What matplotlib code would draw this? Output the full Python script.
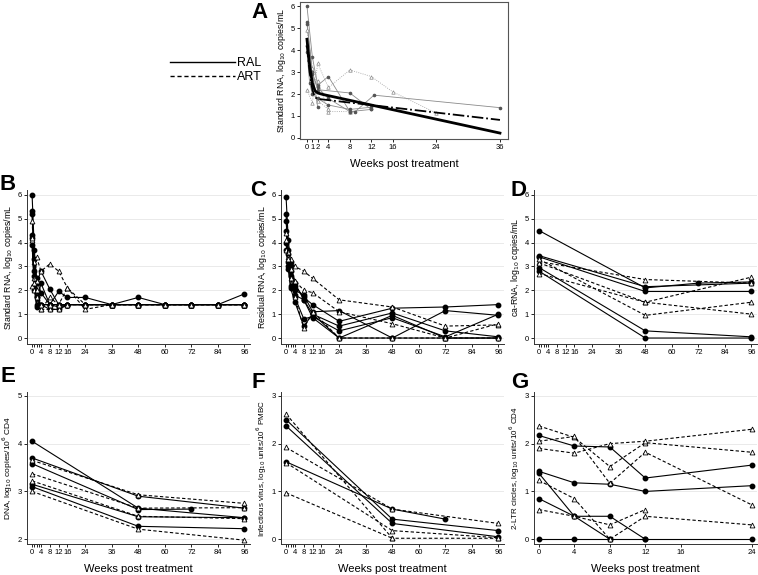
import matplotlib.pyplot as plt
from matplotlib.lines import Line2D

# ---- Panel A: standard RNA, first 36 weeks (thin grey individual lines + model fits)
a_fit_ral_x = [0, 0.5, 1, 1.5, 2, 3, 36]
a_fit_ral_y = [4.5, 3.3, 2.5, 2.15, 2.05, 1.98, 0.22]
a_fit_art_x = [0, 0.5, 1, 1.5, 2, 36]
a_fit_art_y = [4.2, 3.0, 2.2, 1.85, 1.78, 0.82]
a_ind = [
    ([0, 1, 2, 4, 8, 12], [6.0, 3.7, 2.4, 2.8, 1.2, 1.3], '*'),
    ([0, 1, 2, 8, 12], [5.3, 3.0, 2.2, 2.05, 1.3], '*'),
    ([0, 1, 2], [5.2, 3.0, 1.4], '*'),
    ([0, 1, 2, 4, 8, 12, 16, 24], [2.2, 1.6, 3.4, 2.3, 3.1, 2.8, 2.1, 1.15], '^'),
    ([0, 1, 2, 4, 8], [4.9, 3.2, 2.6, 1.2, 1.2], '^'),
    ([0, 1, 2, 4], [4.3, 2.6, 1.7, 1.3], '^'),
    ([0, 1, 2, 4, 8, 9, 12.5, 36], [4.2, 2.9, 2.3, 1.8, 1.2, 1.2, 1.95, 1.38], '*'),
    ([0, 0.5, 1, 2, 4, 8, 12], [3.9, 2.5, 2.0, 1.8, 1.5, 1.3, 1.4], '*'),
]

# ---- Panel B: standard RNA (96 weeks)
b_t = [0, 1, 2, 4, 8, 12, 16, 24, 36, 48, 60, 72, 84, 96]
b_ral = [
    [6.0, 3.7, 2.5, 1.9, 1.4, 1.95, 1.7, 1.7, 1.4, 1.7, 1.4, 1.4, 1.4, 1.85],
    [5.3, 3.3, 2.3, 2.8, 2.05, 1.4, 1.4, 1.4, 1.4, 1.4, 1.4, 1.4, 1.4, 1.4],
    [5.2, 2.8, 1.7, 1.4, 1.2, 1.2, 1.4, 1.4, 1.4, 1.4, 1.4, 1.4, 1.4, 1.4],
    [4.3, 2.6, 1.3, 1.4, 1.4, 1.4, 1.4, 1.4, 1.4, 1.4, 1.4, 1.4, 1.4, 1.4],
    [4.2, 2.2, 1.7, 1.4, 1.4, 1.3, 1.4, 1.4, 1.4, 1.4, 1.4, 1.4, 1.4, 1.4],
    [3.9, 2.0, 1.4, 2.3, 1.4, 1.4, 1.4, 1.4, 1.4, 1.4, 1.4, 1.4, 1.4, 1.4],
]
b_art = [
    [2.2, 2.0, 3.4, 2.8, 3.1, 2.8, 2.1, 1.2, 1.4, 1.4, 1.4, 1.4, 1.4, 1.4],
    [4.9, 3.2, 2.4, 1.2, 1.2, 1.2, 1.4, 1.4, 1.4, 1.4, 1.4, 1.4, 1.4, 1.4],
    [4.1, 2.5, 1.7, 1.2, 1.7, 1.4, 2.1, 1.4, 1.4, 1.4, 1.4, 1.4, 1.4, 1.4],
    [4.2, 2.3, 2.0, 1.4, 1.4, 1.4, 1.4, 1.4, 1.4, 1.4, 1.4, 1.4, 1.4, 1.4],
]

# ---- Panel C: residual RNA
c_t = [0, 1, 2, 4, 8, 12, 24, 48, 72, 96]
c_ral = [
    [5.9, 4.1, 3.2, 2.2, 1.7, 1.4, 0.7, 1.25, 1.3, 1.4],
    [5.2, 3.7, 2.8, 2.0, 1.8, 1.1, 1.15, 0.0, 1.15, 0.95],
    [4.9, 3.5, 3.0, 2.3, 1.6, 1.0, 0.5, 1.05, 0.3, 0.05],
    [4.5, 3.2, 2.6, 1.7, 0.8, 0.9, 0.3, 0.85, 0.05, 1.0],
    [4.0, 3.0, 2.1, 1.5, 0.5, 1.0, 0.0, 0.0, 0.0, 0.0],
    [3.7, 2.9, 2.2, 1.8, 1.6, 0.85, 0.0, 0.95, 0.0, 0.0],
]
c_art = [
    [3.7, 3.6, 3.3, 3.0, 2.8, 2.5, 1.6, 1.3, 0.5, 0.55],
    [4.4, 3.4, 2.9, 2.4, 2.0, 1.9, 1.1, 0.6, 0.0, 0.6],
    [4.1, 3.3, 2.5, 1.7, 0.4, 1.1, 0.0, 0.0, 0.0, 0.0],
]

# ---- Panel D: ca-RNA
d_t = [0, 48, 96]
d_ral = [
    ([0, 48, 72, 96], [4.5, 2.1, 2.3, 2.35]),
    ([0, 48, 96], [3.45, 2.15, 2.3]),
    ([0, 48, 96], [3.4, 1.95, 1.95]),
    ([0, 48, 96], [2.95, 0.3, 0.05]),
    ([0, 48, 96], [2.8, 0.0, 0.0]),
]
d_art = [
    ([0, 48, 96], [3.2, 2.45, 2.3]),
    ([0, 48, 96], [3.15, 1.5, 2.55]),
    ([0, 48, 96], [3.3, 0.95, 1.5]),
    ([0, 48, 96], [2.7, 1.5, 1.0]),
]

# ---- Panel E: DNA
e_ral = [
    ([0, 48, 96], [4.05, 2.65, 2.45]),
    ([0, 48, 96], [3.7, 2.9, 2.65]),
    ([0, 48, 72], [3.58, 2.62, 2.63]),
    ([0, 48, 96], [3.15, 2.47, 2.45]),
    ([0, 48, 96], [3.1, 2.27, 2.22]),
]
e_art = [
    ([0, 48, 96], [3.65, 2.93, 2.75]),
    ([0, 48, 96], [3.37, 2.65, 2.66]),
    ([0, 48, 96], [3.22, 2.48, 2.43]),
    ([0, 48, 96], [3.0, 2.21, 1.98]),
]

# ---- Panel F: infectious virus
f_ral = [
    ([0, 48, 96], [2.5, 0.42, 0.18]),
    ([0, 48, 96], [2.37, 0.33, 0.05]),
    ([0, 48, 72], [1.62, 0.63, 0.42]),
]
f_art = [
    ([0, 48, 96], [2.62, 0.02, 0.02]),
    ([0, 48, 96], [1.92, 0.63, 0.33]),
    ([0, 48, 96], [1.6, 0.18, 0.03]),
    ([0, 48], [0.97, 0.02]),
]

# ---- Panel G: 2-LTR circles
g_ral = [
    ([0, 4, 8, 12, 24], [2.17, 1.95, 1.93, 1.28, 1.55]),
    ([0, 4, 8, 12, 24], [1.42, 1.18, 1.15, 1.0, 1.12]),
    ([0, 4, 8, 12], [1.38, 0.48, 0.48, 0.0]),
    ([0, 4, 8], [0.85, 0.48, 0.0]),
    ([0, 4, 8, 12, 24], [0.0, 0.0, 0.0, 0.0, 0.0]),
]
g_art = [
    ([0, 4, 8, 12, 24], [2.37, 2.13, 1.52, 2.02, 1.82]),
    ([0, 4, 8, 12, 24], [2.05, 2.15, 1.17, 1.82, 0.72]),
    ([0, 4, 8, 12, 24], [1.9, 1.8, 2.0, 2.05, 2.3]),
    ([0, 4, 8, 12, 24], [1.23, 0.85, 0.0, 0.48, 0.3]),
    ([0, 4, 8, 12], [0.62, 0.48, 0.3, 0.62]),
]

long_ticks = [0, 4, 8, 12, 16, 24, 36, 48, 60, 72, 84, 96]
long_labels = ['0', '4', '8', '12', '16', '24', '36', '48', '60', '72', '84', '96']

W, H = 758, 575
fig = plt.figure(figsize=(W / 100, H / 100), dpi=100)
plt.rcParams['font.family'] = ['Liberation Sans', 'DejaVu Sans']


def box(l, t, r, b):
    return fig.add_axes([l / W, 1 - b / H, (r - l) / W, (b - t) / H])


def style(ax, yticks, ylabel, xlabel=None, ysize=6.3):
    for s in ['top', 'right']:
        ax.spines[s].set_visible(False)
    for s in ['left', 'bottom']:
        ax.spines[s].set_linewidth(0.7)
        ax.spines[s].set_color('#333333')
    ax.set_yticks(yticks)
    ax.yaxis.grid(True, color='#e6e6e6', linewidth=0.6)
    ax.set_axisbelow(True)
    ax.tick_params(labelsize=5.5, length=2, width=0.6, pad=1.5)
    ax.set_ylabel(ylabel, fontsize=ysize, labelpad=2)
    if xlabel:
        ax.set_xlabel(xlabel, fontsize=8, labelpad=6)


def draw(ax, t, series, kind):
    for s in series:
        if isinstance(s, tuple):
            x, y = s
        else:
            x, y = t, s
        if kind == 'ral':
            ax.plot(x, y, '-', color='black', lw=0.8, marker='o', ms=3.2,
                    mfc='black', mec='black')
        else:
            ax.plot(x, y, '--', color='black', lw=0.8, marker='^', ms=3.5,
                    mfc='white', mec='black', mew=0.6, dashes=(3, 2))


def long_x(ax):
    ax.set_xlim(-2.3, 98.5)
    ax.set_xticks(long_ticks)
    ax.set_xticklabels(long_labels)
    ax.set_xticks([1, 2, 3], minor=True)
    ax.tick_params(which='minor', length=2, width=0.6)


# Panel A
axA = box(300, 2, 508, 139)
for x, y, m in a_ind:
    if m == '^':
        axA.plot(x, y, ':', color='#999999', lw=0.6, marker='^', ms=2.5,
                 mfc='white', mec='#888888', mew=0.5)
    else:
        axA.plot(x, y, '-', color='#8a8a8a', lw=0.6, marker='o', ms=1.6,
                 mfc='#555555', mec='#555555')
axA.plot(a_fit_ral_x, a_fit_ral_y, '-', color='black', lw=2.0)
axA.plot(a_fit_art_x, a_fit_art_y, '-.', color='black', lw=1.3)
axA.set_xlim(-1.3, 37.5)
axA.set_ylim(-0.05, 6.2)
axA.set_xticks([0, 1, 2, 4, 8, 12, 16, 24, 36])
axA.set_yticks([0, 1, 2, 3, 4, 5, 6])
for s in axA.spines.values():
    s.set_linewidth(0.8)
    s.set_color('#555555')
axA.tick_params(labelsize=5.5, length=2, width=0.6, pad=1.5)
axA.set_ylabel('Standard RNA, log$_{10}$ copies/mL', fontsize=6.3, labelpad=2)
axA.set_xlabel('Weeks post treatment', fontsize=8, labelpad=6)

handles = [Line2D([], [], color='black', lw=1.0),
           Line2D([], [], color='black', lw=1.0, ls='--', dashes=(3, 2))]
fig.legend(handles, ['RAL', 'ART'], loc='center', bbox_to_anchor=(216 / W, 1 - 70 / H),
           frameon=False, fontsize=9, handlelength=5.2, handletextpad=0.2,
           labelspacing=0.15)

# Panel B
axB = box(27, 190, 250, 344)
draw(axB, b_t, b_ral, 'ral')
draw(axB, b_t, b_art, 'art')
long_x(axB)
axB.set_ylim(-0.25, 6.2)
style(axB, [0, 1, 2, 3, 4, 5, 6], 'Standard RNA, log$_{10}$ copies/mL')

# Panel C
axC = box(281, 190, 504, 344)
draw(axC, c_t, c_ral, 'ral')
draw(axC, c_t, c_art, 'art')
long_x(axC)
axC.set_ylim(-0.25, 6.2)
style(axC, [0, 1, 2, 3, 4, 5, 6], 'Residual RNA, log$_{10}$ copies/mL')

# Panel D
axD = box(534, 190, 757, 344)
draw(axD, d_t, d_ral, 'ral')
draw(axD, d_t, d_art, 'art')
long_x(axD)
axD.set_ylim(-0.25, 6.2)
style(axD, [0, 1, 2, 3, 4, 5, 6], 'ca-RNA, log$_{10}$ copies/mL')

# Panel E
axE = box(27, 392, 250, 544)
draw(axE, None, e_ral, 'ral')
draw(axE, None, e_art, 'art')
long_x(axE)
axE.set_ylim(1.9, 5.08)
style(axE, [2, 3, 4, 5], 'DNA, log$_{10}$ copies/10$^6$ CD4', 'Weeks post treatment', 6.0)

# Panel F
axF = box(281, 392, 504, 544)
draw(axF, None, f_ral, 'ral')
draw(axF, None, f_art, 'art')
long_x(axF)
axF.set_ylim(-0.1, 3.08)
style(axF, [0, 1, 2, 3], 'Infectious virus, log$_{10}$ units/10$^6$ PMBC', 'Weeks post treatment', 5.8)

# Panel G
axG = box(534, 392, 757, 544)
draw(axG, None, g_ral, 'ral')
draw(axG, None, g_art, 'art')
axG.set_xlim(-0.55, 24.6)
axG.set_xticks([0, 4, 8, 12, 16, 24])
axG.set_ylim(-0.1, 3.08)
style(axG, [0, 1, 2, 3], '2-LTR circles, log$_{10}$ units/10$^6$ CD4', 'Weeks post treatment', 5.8)

# panel letters
for lab, x, y in [('A', 259, 12), ('B', 8, 185), ('C', 258, 190), ('D', 518, 190),
                  ('E', 8, 377), ('F', 258, 383), ('G', 520, 383)]:
    fig.text(x / W, 1 - y / H, lab, fontsize=16, fontweight='bold', ha='center', va='center')

fig.savefig('out.png', dpi=100)
